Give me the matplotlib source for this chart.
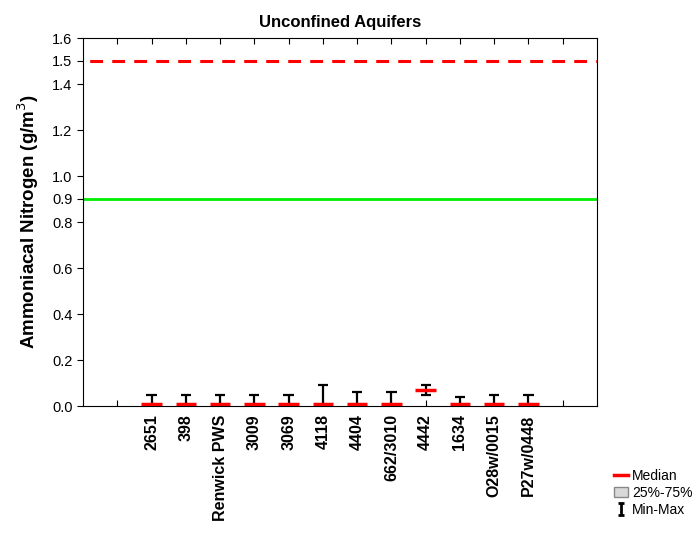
import numpy as np
import matplotlib
matplotlib.use('Agg')
import matplotlib.pyplot as plt
from matplotlib.lines import Line2D
from matplotlib.patches import Patch
from matplotlib.path import Path

plt.rcParams['font.family'] = ['Liberation Sans', 'DejaVu Sans']

# Data
sites = ['2651', '398', 'Renwick PWS', '3009', '3069', '4118', '4404',
         '662/3010', '4442', '1634', 'O28w/0015', 'P27w/0448']
medians = [0.01, 0.01, 0.01, 0.01, 0.01, 0.01, 0.01, 0.01, 0.07, 0.01, 0.01, 0.01]
q25 = [0.01, 0.01, 0.01, 0.01, 0.01, 0.01, 0.01, 0.01, 0.066, 0.01, 0.01, 0.01]
q75 = [0.01, 0.01, 0.01, 0.01, 0.01, 0.01, 0.01, 0.01, 0.074, 0.01, 0.01, 0.01]
mins = [0.0, 0.0, 0.0, 0.0, 0.0, 0.0, 0.0, 0.0, 0.05, 0.0, 0.0, 0.0]
maxs = [0.05, 0.05, 0.05, 0.05, 0.05, 0.09, 0.06, 0.06, 0.09, 0.04, 0.05, 0.05]
guideline_red = 1.5
guideline_green = 0.9

fig = plt.figure(figsize=(6.97, 5.34), dpi=100)
ax = fig.add_axes([83 / 697, 128 / 534, 514 / 697, 368 / 534])

x = np.arange(2, 2 + len(sites))

# guideline lines
ax.axhline(guideline_red, color='#ff0000', lw=2.2, ls=(5, (4.2, 3)))
ax.axhline(guideline_green, color='#00ee00', lw=2)

# whiskers
ax.vlines(x, mins, maxs, color='black', lw=1.6, zorder=3)
ax.hlines(maxs, x - 0.15, x + 0.15, color='black', lw=1.6, zorder=3)
ax.hlines(mins, x - 0.15, x + 0.15, color='black', lw=1.6, zorder=3)

# boxes
ax.bar(x, np.array(q75) - np.array(q25), bottom=q25, width=0.3,
       color='#d9d9d9', edgecolor='black', lw=0.6, zorder=4)

# medians
ax.hlines(medians, x - 0.3, x + 0.3, color='#ff0000', lw=2.5, zorder=5)

ax.set_xlim(0, 15)
ax.set_ylim(0, 1.6)
ax.set_xticks(np.arange(1, 15))
ax.set_xticklabels([''] + sites + [''], rotation=90, fontweight='bold', fontsize=11.5)
ax.set_yticks([0.0, 0.2, 0.4, 0.6, 0.8, 0.9, 1.0, 1.2, 1.4, 1.5, 1.6])
ax.set_yticklabels(['0.0', '0.2', '0.4', '0.6', '0.8', '0.9', '1.0', '1.2', '1.4', '1.5', '1.6'],
                   fontsize=10.5)
ax.tick_params(axis='x', direction='in', top=True, length=4, pad=6)
ax.tick_params(axis='y', direction='out', length=4)

ax.set_title('Unconfined Aquifers', fontweight='bold', fontsize=12, pad=8)
ax.set_ylabel('Ammoniacal Nitrogen (g/m$^3$)', fontweight='bold', fontsize=13.5, labelpad=8)

# I-shaped marker for min-max in legend
ibeam = Path([(-0.5, 1), (0.5, 1), (0, 1), (0, -1), (-0.5, -1), (0.5, -1)],
             [Path.MOVETO, Path.LINETO, Path.MOVETO, Path.LINETO, Path.MOVETO, Path.LINETO])
handles = [Line2D([], [], color='#ff0000', lw=2.5),
           Patch(facecolor='#d9d9d9', edgecolor='#888888'),
           Line2D([], [], color='black', lw=0, marker=ibeam, markersize=9,
                  markeredgewidth=2, markerfacecolor='none')]
fig.legend(handles, ['Median', '25%-75%', 'Min-Max'], loc='upper left',
           bbox_to_anchor=(607 / 697, 1 - 462 / 534), frameon=False, fontsize=10,
           handlelength=1.0, handletextpad=0.3, labelspacing=0.2, borderpad=0)

fig.savefig('out.png', dpi=100)
